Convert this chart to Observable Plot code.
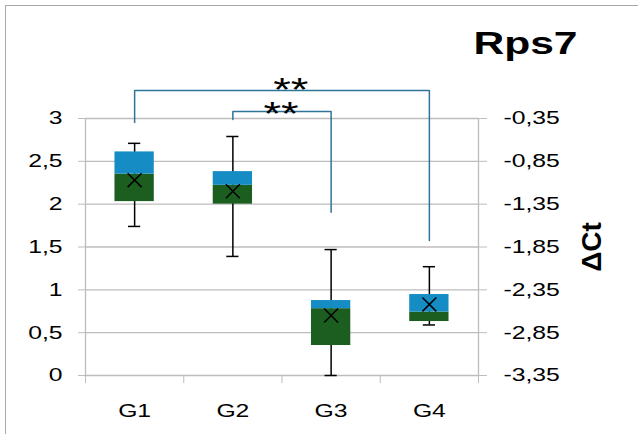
<!DOCTYPE html>
<html>
<head>
<meta charset="utf-8">
<script src="https://cdn.jsdelivr.net/npm/d3@7"></script>
<script src="https://cdn.jsdelivr.net/npm/@observablehq/plot@0.6"></script>
<style>
  html, body { margin: 0; padding: 0; background: #fff; }
  #wrap { position: relative; width: 638px; height: 434px; overflow: hidden; }
  #frameline { position: absolute; left: 5px; top: 5px; right: -10px; bottom: -10px;
    border-left: 1.5px solid #a9a9a9; border-top: 1.5px solid #a9a9a9; pointer-events: none; }
</style>
</head>
<body>
<div id="wrap"><div id="frameline"></div></div>
<script>
// ---- data ----
const groups      = ["G1", "G2", "G3", "G4"];
const whiskerMin  = [1.74, 1.39, 0.00, 0.59];
const q1          = [2.03, 2.00, 0.35, 0.63];
const median      = [2.35, 2.22, 0.78, 0.74];
const q3          = [2.61, 2.38, 0.875, 0.945];
const whiskerMax  = [2.71, 2.79, 1.47, 1.27];
const mean        = [2.28, 2.15, 0.70, 0.83];

const leftTicks   = [0, 0.5, 1, 1.5, 2, 2.5, 3];
const leftLabels  = ["0", "0,5", "1", "1,5", "2", "2,5", "3"];
const rightLabels = ["-3,35", "-2,85", "-2,35", "-1,85", "-1,35", "-0,85", "-0,35"];

// significance brackets
const bracketFrom    = ["G1", "G2"];
const bracketTo      = ["G4", "G3"];
const bracketTop     = [3.327, 3.082];
const bracketLegFrom = [2.953, 2.988];
const bracketLegTo   = [1.576, 1.906];
const bracketLabel   = ["**", "**"];
const labelX         = [2.09, 1.99];
const labelY         = [3.21, 2.92];

const titleText = "Rps7";
const rightAxisTitle = "ΔCt";

// ---- derived tables ----
const idx = g => groups.indexOf(g) + 0.5;
const bracketPts = [];
bracketFrom.forEach((f, i) => {
  const a = idx(f), b = idx(bracketTo[i]);
  bracketPts.push({id: i, x: a, y: bracketLegFrom[i]});
  bracketPts.push({id: i, x: a, y: bracketTop[i]});
  bracketPts.push({id: i, x: b, y: bracketTop[i]});
  bracketPts.push({id: i, x: b, y: bracketLegTo[i]});
});

const gray = "#bdbdbd";
const blue = "#158dc4";
const green = "#1b5e20";
const bracketColor = "#2f7597";
const cx = (d, i) => i + 0.5;

const chart = Plot.plot({
  width: 638, height: 434,
  marginLeft: 85, marginRight: 160, marginTop: 118, marginBottom: 59,
  style: {fontFamily: "'Liberation Sans', Arial, sans-serif", fontSize: "18.6px", color: "#000", background: "transparent", overflow: "visible"},
  x: {type: "linear", domain: [0, 4], axis: null},
  y: {domain: [0, 3], axis: null},
  marks: [
    Plot.gridY(leftTicks, {stroke: gray, strokeOpacity: 1, strokeWidth: 1.3}),
    Plot.ruleX([0, 4], {y1: 0, y2: 3, stroke: gray, strokeWidth: 1.3}),
    Plot.axisY(leftTicks, {anchor: "left", tickSize: 7, tickPadding: 16, stroke: gray, fill: "#000",
      tickFormat: d => leftLabels[leftTicks.indexOf(d)], label: null}),
    Plot.axisY(leftTicks, {anchor: "right", tickSize: 8, tickPadding: 17, stroke: gray, fill: "#000",
      tickFormat: d => rightLabels[leftTicks.indexOf(d)], label: null, textAnchor: "start"}),
    Plot.axisX([0, 1, 2, 3, 4], {anchor: "bottom", tickSize: 8, stroke: gray, tickFormat: () => "", label: null}),
    Plot.axisX(groups.map((g, i) => i + 0.5), {anchor: "bottom", tickSize: 0, tickPadding: 28, fill: "#000",
      tickFormat: d => groups[Math.floor(d)], label: null}),
    // whiskers
    Plot.ruleX(groups, {x: cx, y1: (d, i) => whiskerMin[i], y2: (d, i) => whiskerMax[i], stroke: "#000", strokeWidth: 1.5}),
    Plot.ruleY(groups, {y: (d, i) => whiskerMin[i], x1: (d, i) => i + 0.5 - 0.062, x2: (d, i) => i + 0.5 + 0.062, stroke: "#000", strokeWidth: 1.5}),
    Plot.ruleY(groups, {y: (d, i) => whiskerMax[i], x1: (d, i) => i + 0.5 - 0.062, x2: (d, i) => i + 0.5 + 0.062, stroke: "#000", strokeWidth: 1.5}),
    // boxes
    Plot.rect(groups, {x1: (d, i) => i + 0.3, x2: (d, i) => i + 0.7, y1: (d, i) => q1[i], y2: (d, i) => median[i], fill: green}),
    Plot.rect(groups, {x1: (d, i) => i + 0.3, x2: (d, i) => i + 0.7, y1: (d, i) => median[i], y2: (d, i) => q3[i], fill: blue}),
    // mean
    Plot.dot(groups, {x: cx, y: (d, i) => mean[i], symbol: "times", r: 6.4, stroke: "#000", strokeWidth: 1.5}),
    // brackets
    Plot.line(bracketPts, {x: "x", y: "y", z: "id", stroke: bracketColor, strokeWidth: 1.5, curve: "linear"}),
    Plot.text(bracketLabel, {x: (d, i) => labelX[i], y: (d, i) => labelY[i], text: d => d, fontSize: 34,
      lineAnchor: "bottom", fill: "#000"}),
    // title
    Plot.text([titleText], {frameAnchor: "top-right", dx: 47, dy: -65, lineAnchor: "bottom", textAnchor: "middle",
      fontSize: 32, fontWeight: "bold", fill: "#000"}),
    Plot.text([rightAxisTitle], {frameAnchor: "right", dx: 114, rotate: -90, fontSize: 28, fontWeight: "bold",
      textAnchor: "middle", lineAnchor: "middle", fill: "#000", ariaDescription: "nostretch"})
  ]
});

document.getElementById("wrap").appendChild(chart);

// horizontal text in the reference is drawn wider than the font's natural width
chart.querySelectorAll("text").forEach(t => {
  if (t.closest('[aria-description="nostretch"]')) return;
  const L = t.getComputedTextLength();
  if (!L) return;
  t.setAttribute("textLength", (L * 1.33).toFixed(2));
  t.setAttribute("lengthAdjust", "spacingAndGlyphs");
});
</script>
</body>
</html>
